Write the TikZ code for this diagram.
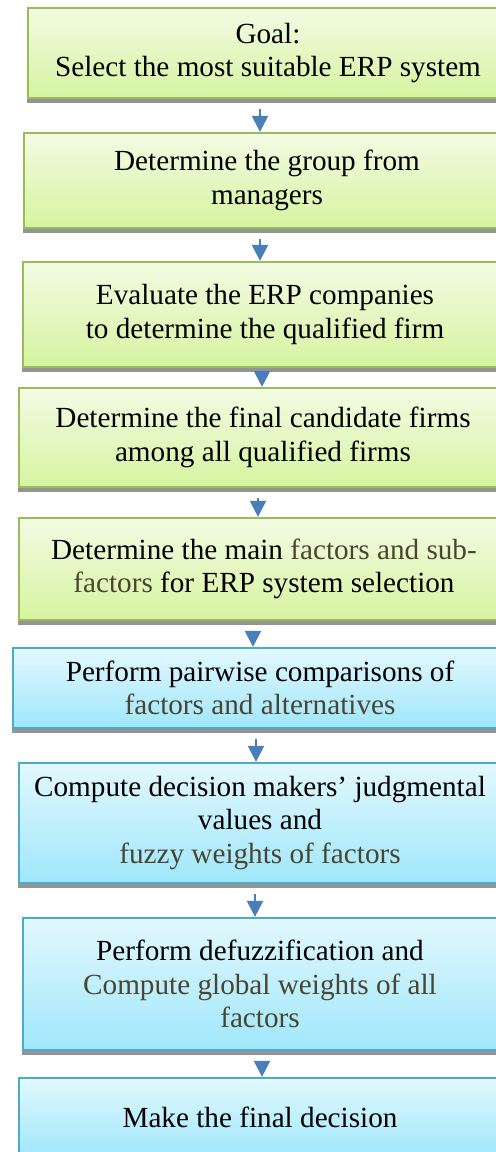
\documentclass[tikz,border=0pt]{standalone}
\usepackage{fontspec}
\setmainfont{Liberation Serif}
\usetikzlibrary{arrows.meta,shadows}
\definecolor{greenline}{HTML}{9BBB59}
\definecolor{greentop}{HTML}{F3FBE4}
\definecolor{greenbot}{HTML}{D6F4A0}
\definecolor{blueline}{HTML}{4BACC6}
\definecolor{bluetop}{HTML}{E3F8FE}
\definecolor{bluebot}{HTML}{9FE7FB}
\definecolor{arrowblue}{HTML}{4A7EBB}
\definecolor{olivetext}{HTML}{4A4530}
\newcommand{\ot}[1]{\textcolor{olivetext}{#1}}

\begin{document}
\begin{tikzpicture}[x=0.5pt, y=-0.5pt,
	stage/.style={draw, line width=1.1pt, inner sep=0pt, align=center,
		font=\fontsize{14.6}{16.8}\selectfont,
		drop shadow={shadow xshift=-0.6pt, shadow yshift=-2.6pt, fill=black!42, opacity=1}},
	greenbox/.style={stage, draw=greenline, top color=greentop, bottom color=greenbot},
	bluebox/.style={stage, draw=blueline, top color=bluetop, bottom color=bluebot},
	flow/.style={draw=arrowblue, line width=1.1pt, -{Triangle[width=8pt, length=8pt]}}]
\clip (0,0) rectangle (496,1152);

	\node[greenbox, minimum width=240pt, minimum height=45pt] (goal) at (268,53)
		{Goal:\\ Select the most suitable ERP system};
	\node[greenbox, minimum width=243pt, minimum height=47.5pt] (group) at (267,180.5)
		{Determine the group from\\ managers};
	\node[greenbox, minimum width=242pt, minimum height=52.5pt] (evaluate) at (265,314.5)
		{Evaluate the ERP companies\\ to determine the qualified firm};
	\node[greenbox, minimum width=244pt, minimum height=49.5pt] (candidates) at (263,437.5)
		{Determine the final candidate firms\\ among all qualified firms};
	\node[greenbox, minimum width=245pt, minimum height=51pt] (factors) at (264,569)
		{Determine the main \ot{factors and sub-}\\ \ot{factors} for ERP system selection};

	\node[bluebox, minimum width=247pt, minimum height=40pt] (pairwise) at (260,688)
		{Perform pairwise comparisons of\\ \ot{factors and alternatives}};
	\node[bluebox, minimum width=241pt, minimum height=60pt] (judgment) at (260,823)
		{Compute decision makers' judgmental\\ values and\\ \ot{fuzzy weights of factors}};
	\node[bluebox, minimum width=237pt, minimum height=66pt] (defuzz) at (260,984)
		{Perform defuzzification and\\ \ot{Compute global weights of all}\\ \ot{factors}};
	\node[bluebox, minimum width=241pt, minimum height=39pt] (decision) at (260,1117)
		{Make the final decision};

\foreach \a/\b/\x in {goal/group/260, group/evaluate/260, evaluate/candidates/262,
		candidates/factors/258, factors/pairwise/253, pairwise/judgment/256,
		judgment/defuzz/255, defuzz/decision/262}
	\draw[flow] (\a.south -| \x,0) ++(0,10) -- (\b.north -| \x,0);

\end{tikzpicture}
\end{document}
